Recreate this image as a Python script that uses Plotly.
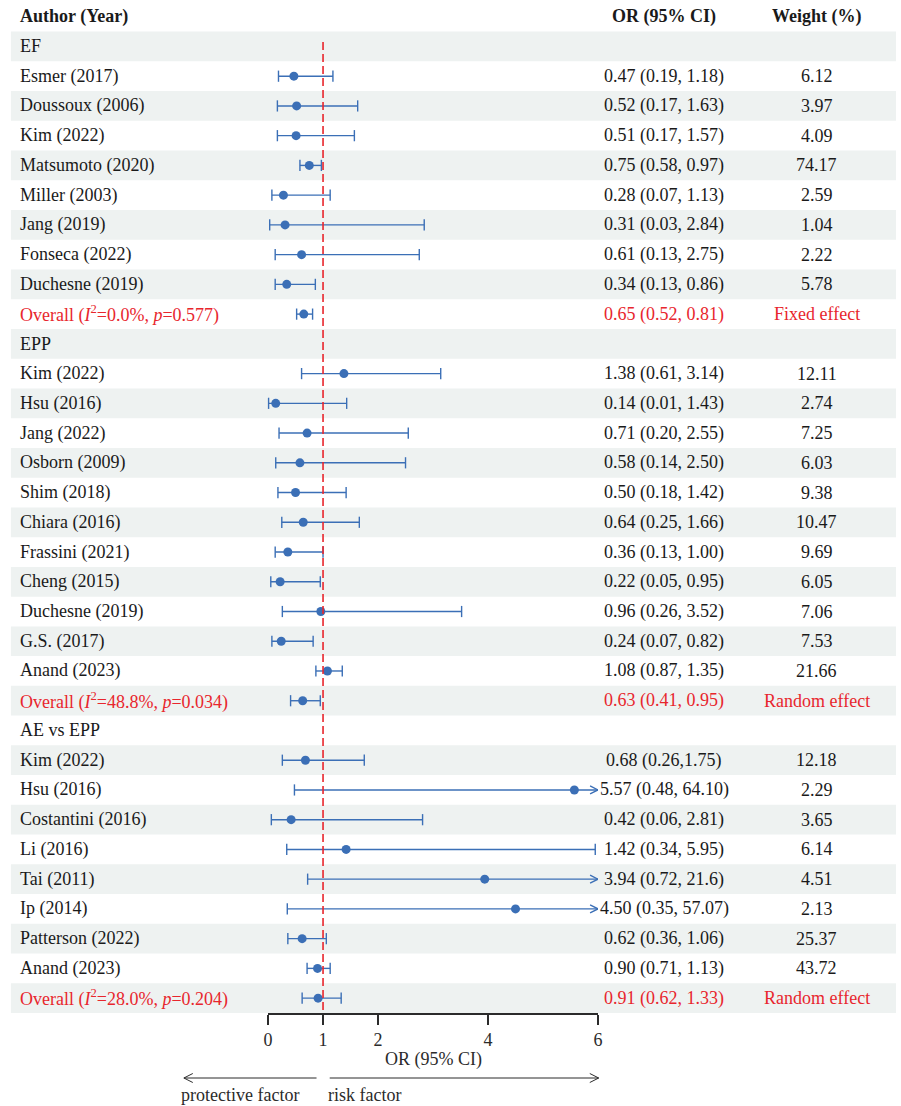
import plotly.graph_objects as go

# ---------------- data ----------------
X_MIN, X_MAX = 0, 6
TICKS = [0, 1, 2, 4, 6]

EF_STUDY = ["Esmer (2017)", "Doussoux (2006)", "Kim (2022)", "Matsumoto (2020)",
            "Miller (2003)", "Jang (2019)", "Fonseca (2022)", "Duchesne (2019)"]
EF_OR = [0.47, 0.52, 0.51, 0.75, 0.28, 0.31, 0.61, 0.34]
EF_LO = [0.19, 0.17, 0.17, 0.58, 0.07, 0.03, 0.13, 0.13]
EF_HI = [1.18, 1.63, 1.57, 0.97, 1.13, 2.84, 2.75, 0.86]
EF_CI_TEXT = ["0.47 (0.19, 1.18)", "0.52 (0.17, 1.63)", "0.51 (0.17, 1.57)",
              "0.75 (0.58, 0.97)", "0.28 (0.07, 1.13)", "0.31 (0.03, 2.84)",
              "0.61 (0.13, 2.75)", "0.34 (0.13, 0.86)"]
EF_WEIGHT = ["6.12", "3.97", "4.09", "74.17", "2.59", "1.04", "2.22", "5.78"]
EF_POOLED = [0.65, 0.52, 0.81]
EF_POOLED_TEXT = ["Overall (<i>I</i><sup>2</sup>=0.0%, <i>p</i>=0.577)",
                  "0.65 (0.52, 0.81)", "Fixed effect"]

EPP_STUDY = ["Kim (2022)", "Hsu (2016)", "Jang (2022)", "Osborn (2009)", "Shim (2018)",
             "Chiara (2016)", "Frassini (2021)", "Cheng (2015)", "Duchesne (2019)",
             "G.S. (2017)", "Anand (2023)"]
EPP_OR = [1.38, 0.14, 0.71, 0.58, 0.50, 0.64, 0.36, 0.22, 0.96, 0.24, 1.08]
EPP_LO = [0.61, 0.01, 0.20, 0.14, 0.18, 0.25, 0.13, 0.05, 0.26, 0.07, 0.87]
EPP_HI = [3.14, 1.43, 2.55, 2.50, 1.42, 1.66, 1.00, 0.95, 3.52, 0.82, 1.35]
EPP_CI_TEXT = ["1.38 (0.61, 3.14)", "0.14 (0.01, 1.43)", "0.71 (0.20, 2.55)",
               "0.58 (0.14, 2.50)", "0.50 (0.18, 1.42)", "0.64 (0.25, 1.66)",
               "0.36 (0.13, 1.00)", "0.22 (0.05, 0.95)", "0.96 (0.26, 3.52)",
               "0.24 (0.07, 0.82)", "1.08 (0.87, 1.35)"]
EPP_WEIGHT = ["12.11", "2.74", "7.25", "6.03", "9.38", "10.47", "9.69", "6.05",
              "7.06", "7.53", "21.66"]
EPP_POOLED = [0.63, 0.41, 0.95]
EPP_POOLED_TEXT = ["Overall (<i>I</i><sup>2</sup>=48.8%, <i>p</i>=0.034)",
                   "0.63 (0.41, 0.95)", "Random effect"]

AE_STUDY = ["Kim (2022)", "Hsu (2016)", "Costantini (2016)", "Li (2016)", "Tai (2011)",
            "Ip (2014)", "Patterson (2022)", "Anand (2023)"]
AE_OR = [0.68, 5.57, 0.42, 1.42, 3.94, 4.50, 0.62, 0.90]
AE_LO = [0.26, 0.48, 0.06, 0.34, 0.72, 0.35, 0.36, 0.71]
AE_HI = [1.75, 64.10, 2.81, 5.95, 21.6, 57.07, 1.06, 1.13]
AE_CI_TEXT = ["0.68 (0.26,1.75)", "5.57 (0.48, 64.10)", "0.42 (0.06, 2.81)",
              "1.42 (0.34, 5.95)", "3.94 (0.72, 21.6)", "4.50 (0.35, 57.07)",
              "0.62 (0.36, 1.06)", "0.90 (0.71, 1.13)"]
AE_WEIGHT = ["12.18", "2.29", "3.65", "6.14", "4.51", "2.13", "25.37", "43.72"]
AE_POOLED = [0.91, 0.62, 1.33]
AE_POOLED_TEXT = ["Overall (<i>I</i><sup>2</sup>=28.0%, <i>p</i>=0.204)",
                  "0.91 (0.62, 1.33)", "Random effect"]

GROUPS = [
    ("EF", EF_STUDY, EF_OR, EF_LO, EF_HI, EF_CI_TEXT, EF_WEIGHT, EF_POOLED, EF_POOLED_TEXT),
    ("EPP", EPP_STUDY, EPP_OR, EPP_LO, EPP_HI, EPP_CI_TEXT, EPP_WEIGHT, EPP_POOLED, EPP_POOLED_TEXT),
    ("AE vs EPP", AE_STUDY, AE_OR, AE_LO, AE_HI, AE_CI_TEXT, AE_WEIGHT, AE_POOLED, AE_POOLED_TEXT),
]

HEADERS = ["Author (Year)", "OR (95% CI)", "Weight (%)"]

# ---------------- style ----------------
W, H = 901, 1106
FONT = "Liberation Serif"
FS = 18
INK = "#1a1a1a"
RED = "#e8262d"
BLUE = "#3b6fb6"
SHADE = "#eef2f1"
AXIS_INK = "#2b2b2b"

ROW_PX = 29.74
PLOT_H = 1013
MARGIN_B = H - PLOT_H
X_LEFT_PX, X_RIGHT_PX = 266.7, 600.0
PX_PER_UNIT = (X_RIGHT_PX - X_LEFT_PX) / (X_MAX - X_MIN)
COL_LABEL, COL_CI, COL_W = 14 / W, 667 / W, 821 / W


def paper_y(px):
    return (PLOT_H - px) / PLOT_H


# ---------------- assemble rows ----------------
rows = []  # (kind, label, or, lo, hi, ci_text, weight_text)
rows.append(("header", HEADERS[0], None, None, None, HEADERS[1], HEADERS[2]))
for name, study, orv, lo, hi, ci, wt, pooled, ptext in GROUPS:
    rows.append(("group", name, None, None, None, "", ""))
    for i in range(len(study)):
        rows.append(("study", study[i], orv[i], lo[i], hi[i], ci[i], wt[i]))
    rows.append(("pooled", ptext[0], pooled[0], pooled[1], pooled[2], ptext[1], ptext[2]))

n_rows = len(rows)
y_bottom = n_rows - 0.5
y_top = y_bottom - PLOT_H / ROW_PX

fig = go.Figure()
shapes, annotations = [], []

line_x, line_y = [], []
cap_x, cap_y = [], []
pt_x, pt_y = [], []
head_x, head_y = [], []

# chevron size for intervals that run past the axis end
HEAD_DX = 8 / PX_PER_UNIT
HEAD_DY = 4 / ROW_PX

for r, (kind, label, orv, lo, hi, ci, wt) in enumerate(rows):
    if r % 2 == 1:
        shapes.append(dict(type="rect", xref="paper", yref="y", x0=7 / W, x1=1,
                           y0=r - 0.5, y1=r + 0.5, fillcolor=SHADE,
                           line=dict(width=0), layer="below"))
    color = RED if kind == "pooled" else INK
    bold = kind == "header"
    for txt, xpos, anchor in ((label, COL_LABEL, "left"), (ci, COL_CI, "center"),
                              (wt, COL_W, "center")):
        if txt:
            annotations.append(dict(x=xpos, y=r, xref="paper", yref="y",
                                    text=f"<b>{txt}</b>" if bold else txt,
                                    showarrow=False, xanchor=anchor, yanchor="middle",
                                    font=dict(family=FONT, size=FS, color=color)))
    if orv is None:
        continue
    hi_c = min(hi, X_MAX)
    line_x += [lo, hi_c, None]
    line_y += [r, r, None]
    cap_x.append(lo)
    cap_y.append(r)
    if hi <= X_MAX:
        cap_x.append(hi)
        cap_y.append(r)
    else:
        head_x += [X_MAX - HEAD_DX, X_MAX, X_MAX - HEAD_DX, None]
        head_y += [r - HEAD_DY, r, r + HEAD_DY, None]
    pt_x.append(orv)
    pt_y.append(r)

fig.add_trace(go.Scatter(x=line_x, y=line_y, mode="lines",
                         line=dict(color=BLUE, width=1.4), hoverinfo="skip",
                         cliponaxis=False, showlegend=False))
fig.add_trace(go.Scatter(x=head_x, y=head_y, mode="lines",
                         line=dict(color=BLUE, width=1.4), hoverinfo="skip",
                         cliponaxis=False, showlegend=False))
fig.add_trace(go.Scatter(x=cap_x, y=cap_y, mode="markers",
                         marker=dict(symbol="line-ns", size=8,
                                     line=dict(color=BLUE, width=1.4)),
                         hoverinfo="skip", cliponaxis=False, showlegend=False))
fig.add_trace(go.Scatter(x=pt_x, y=pt_y, mode="markers",
                         marker=dict(symbol="circle", size=9, color=BLUE),
                         hoverinfo="skip", cliponaxis=False, showlegend=False))

# reference line at OR = 1
shapes.append(dict(type="line", xref="x", yref="y", x0=1, x1=1, y0=0.85, y1=y_bottom,
                   line=dict(color=RED, width=1.6, dash="8px,4px")))

# direction arrows below the axis
ARROW_Y = paper_y(1078)
AH_W, AH_H = 9 / W, 4.5 / PLOT_H
for head_px, tail_px in ((181.7, 315.7), (600.7, 329.0)):
    hx, tx = head_px / W, tail_px / W
    sgn = 1 if tx > hx else -1
    shapes.append(dict(type="line", xref="paper", yref="paper", x0=tx, x1=hx,
                       y0=ARROW_Y, y1=ARROW_Y, line=dict(color=AXIS_INK, width=1)))
    shapes.append(dict(type="path", xref="paper", yref="paper",
                       path=(f"M {hx + sgn * AH_W},{ARROW_Y + AH_H} L {hx},{ARROW_Y} "
                             f"L {hx + sgn * AH_W},{ARROW_Y - AH_H}"),
                       line=dict(color=AXIS_INK, width=1)))

annotations.append(dict(x=(X_MIN + X_MAX) / 2, y=paper_y(1059), xref="x", yref="paper",
                        text="OR (95% CI)", showarrow=False, xanchor="center",
                        yanchor="middle", font=dict(family=FONT, size=FS, color=AXIS_INK)))
annotations.append(dict(x=177 / W, y=paper_y(1095), xref="paper", yref="paper",
                        text="protective factor", showarrow=False, xanchor="left",
                        yanchor="middle", font=dict(family=FONT, size=FS, color=AXIS_INK)))
annotations.append(dict(x=325 / W, y=paper_y(1095), xref="paper", yref="paper",
                        text="risk factor", showarrow=False, xanchor="left",
                        yanchor="middle", font=dict(family=FONT, size=FS, color=AXIS_INK)))

fig.update_layout(
    width=W, height=H,
    margin=dict(l=0, r=0, t=0, b=MARGIN_B, pad=0),
    paper_bgcolor="white", plot_bgcolor="rgba(0,0,0,0)",
    shapes=shapes, annotations=annotations,
    xaxis=dict(domain=[X_LEFT_PX / W, X_RIGHT_PX / W], range=[X_MIN, X_MAX],
               tickvals=TICKS, ticktext=[str(t) for t in TICKS],
               showline=True, linecolor=AXIS_INK, linewidth=1.5,
               ticks="outside", ticklen=10, tickwidth=1.5, tickcolor=AXIS_INK,
               tickfont=dict(family=FONT, size=FS, color=AXIS_INK),
               showgrid=False, zeroline=False, fixedrange=True),
    yaxis=dict(range=[y_bottom, y_top], visible=False, showgrid=False,
               zeroline=False, fixedrange=True),
    showlegend=False,
)

fig.write_html("out.html")
